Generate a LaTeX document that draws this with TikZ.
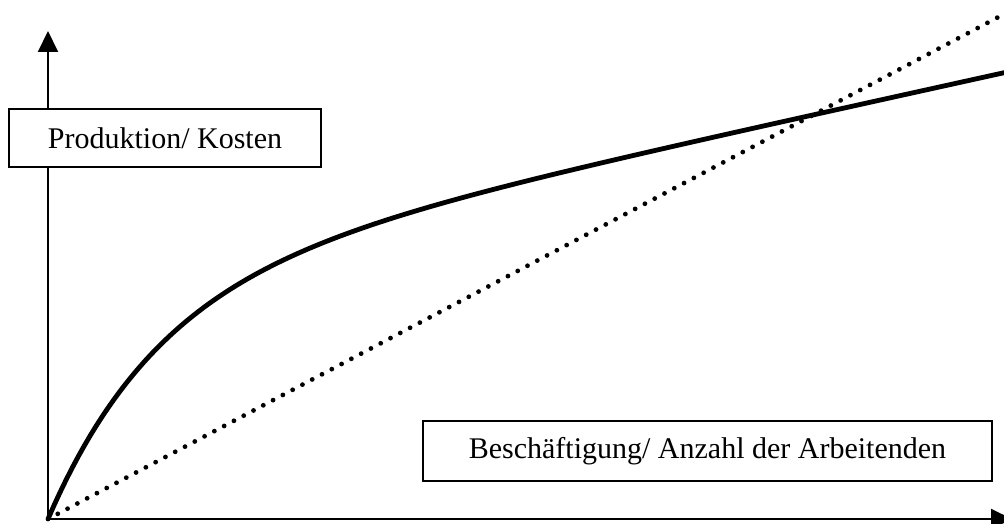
\documentclass[tikz,border=0pt]{standalone}
\usepackage{fontspec}
\setmainfont{Liberation Serif}
\usetikzlibrary{arrows.meta}
\begin{document}
\begin{tikzpicture}[x=0.75pt,y=-0.75pt,
  axis/.style={line width=1.5pt,-{Triangle[length=15.75pt,width=15pt]}},
  lbl/.style={draw,line width=1.3pt,fill=white,inner sep=0pt,
    font=\fontsize{22.5}{26}\selectfont}]
  \useasboundingbox (0,0) rectangle (1004,524);
  \clip (0,0) rectangle (1004,524);
  \coordinate (o) at (48,519);
  \coordinate (ytip) at (48,31);
  \coordinate (xtip) at (1012,519);
  \coordinate (pend) at (1008,12);
  \draw[axis] (o) -- (ytip);
  \draw[axis] (o) -- (xtip);
  % Kosten: gerade, gepunktet
  \draw[line width=3.6pt,line cap=round,dash pattern=on 0pt off 8.3pt] (o) -- (pend);
  % Produktion
  \draw[line width=3.6pt,line join=round] (o) -- plot[domain=0:962,samples=160]
    ({48+\x},{519-236*(1-exp(-\x/112))-0.22*\x});
  \node[lbl,minimum width=234pt,minimum height=43.5pt] (ylbl) at (165,138) {Produktion/ Kosten};
  \node[lbl,minimum width=426.75pt,minimum height=45pt] (xlbl) at (707.5,451)
    {Beschäftigung/ Anzahl der Arbeitenden};
\end{tikzpicture}
\end{document}
